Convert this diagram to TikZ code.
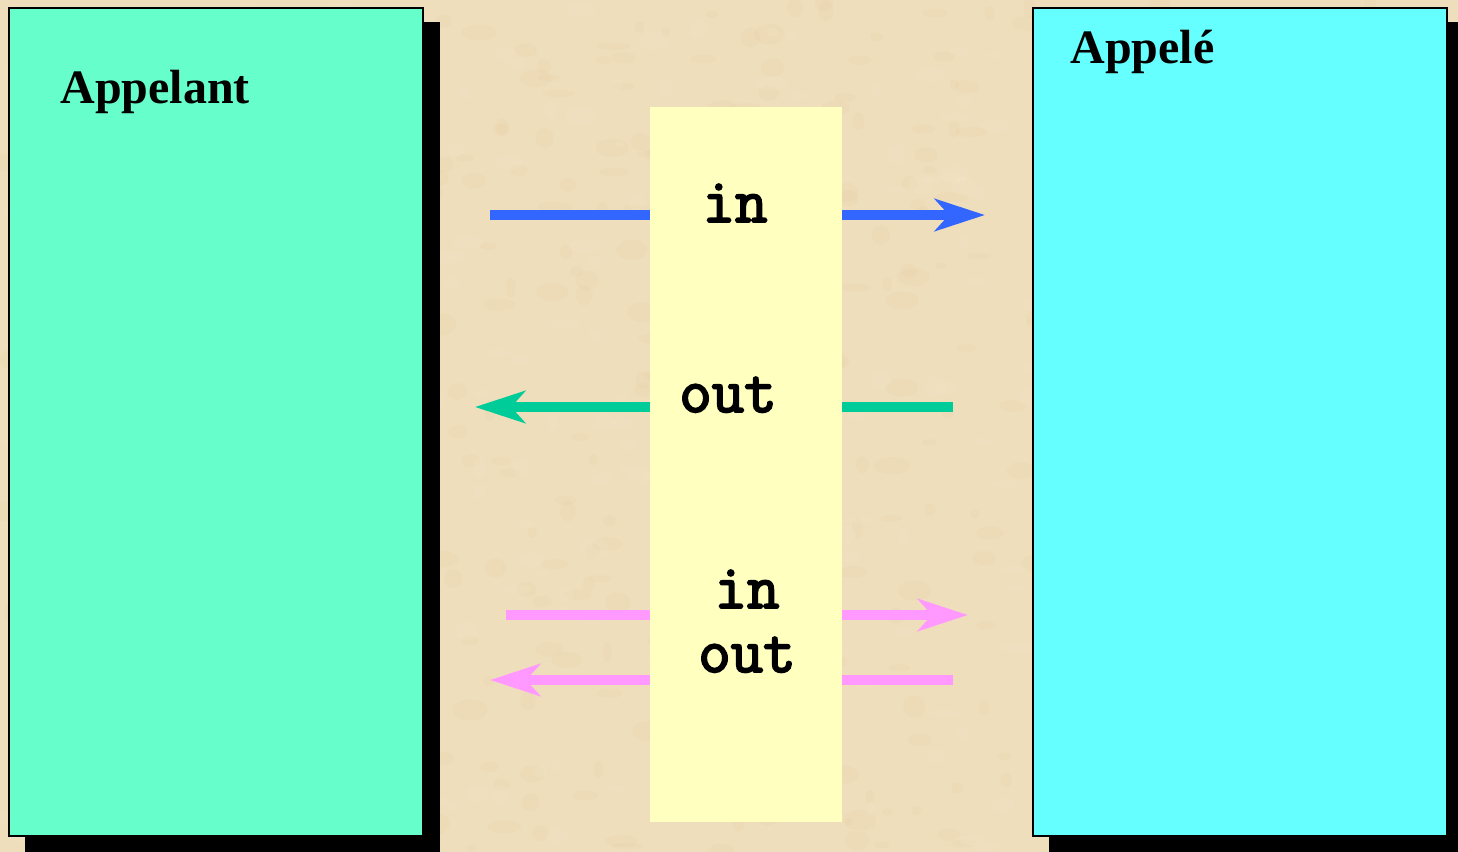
\documentclass[tikz,border=0pt]{standalone}
\usepackage{fontspec}
\setmainfont{Liberation Serif}
\newfontfamily\codefont[FakeBold=3]{Latin Modern Mono}
\usetikzlibrary{arrows.meta}

\definecolor{parchment}{RGB}{239,222,188}
\definecolor{parchdark}{RGB}{214,186,135}
\definecolor{parchlight}{RGB}{250,238,212}
\definecolor{callerfill}{RGB}{102,255,204}
\definecolor{calleefill}{RGB}{102,255,255}
\definecolor{modefill}{RGB}{255,255,192}
\definecolor{inblue}{RGB}{51,102,255}
\definecolor{outgreen}{RGB}{0,204,153}
\definecolor{inoutpink}{RGB}{255,153,255}

\tikzset{
  party/.style={draw=black, line width=1pt, minimum width=207pt, minimum height=414pt,
    inner sep=0pt, outer sep=0pt},
  shadowbox/.style={fill=black},
  title/.style={anchor=base west, font=\fontsize{24}{28}\selectfont\bfseries, inner sep=0pt},
  modetext/.style={anchor=base, font=\codefont\fontsize{31.5}{36}\selectfont, inner sep=0pt},
  modeband/.style={fill=modefill, draw=none, minimum width=96pt, minimum height=357.5pt,
    inner sep=0pt, outer sep=0pt},
  flow/.style={line width=5pt, -{Stealth[length=25pt, width=16pt, inset=7pt]}},
}

\begin{document}
\begin{tikzpicture}[x=0.5pt, y=-0.5pt]
  \useasboundingbox (0,0) rectangle (1458,852);
  \clip (0,0) rectangle (1458,852);

  % parchment background with a faint mottled grain
  \fill[parchment] (0,0) rectangle (1458,852);
  \pgfmathsetseed{7}
  \foreach \i in {1,...,500} {
    \pgfmathsetmacro{\px}{rnd*1458}
    \pgfmathsetmacro{\py}{rnd*852}
    \pgfmathsetmacro{\rx}{4+rnd*14}
    \pgfmathsetmacro{\ry}{3+rnd*8}
    \fill[parchdark, opacity=0.08] (\px,\py) ellipse [x radius=\rx, y radius=\ry];
  }
  \foreach \i in {1,...,300} {
    \pgfmathsetmacro{\px}{rnd*1458}
    \pgfmathsetmacro{\py}{rnd*852}
    \pgfmathsetmacro{\rx}{4+rnd*12}
    \pgfmathsetmacro{\ry}{3+rnd*7}
    \fill[parchlight, opacity=0.12] (\px,\py) ellipse [x radius=\rx, y radius=\ry];
  }

  % caller and callee panels with drop shadows
  \fill[shadowbox] (25,22) rectangle (440,870);
  \fill[shadowbox] (1049,22) rectangle (1470,870);
  \node[party, fill=callerfill] (caller) at (216,422) {};
  \node[party, fill=calleefill] (callee) at (1239.5,422) {};
  \node[title] (callerlabel) at (60,103) {Appelant};
  \node[title] (calleelabel) at (1070,63) {Appelé};

  % endpoints of the parameter-passing arrows
  \coordinate (inL)   at (490,215);  \coordinate (inR)   at (985,215);
  \coordinate (outL)  at (475,407);  \coordinate (outR)  at (953,407);
  \coordinate (ioinL) at (506,615);  \coordinate (ioinR) at (968,615);
  \coordinate (iooutL) at (490,680); \coordinate (iooutR) at (953,680);

  \draw[flow, inblue] (inL) -- (inR);
  \draw[flow, outgreen] (outR) -- (outL);
  \draw[flow, inoutpink] (ioinL) -- (ioinR);
  \draw[flow, inoutpink] (iooutR) -- (iooutL);

  % central band carrying the parameter modes
  \node[modeband] (band) at (746,464.5) {};
  \node[modetext] (modein)    at (735,222) {in};
  \node[modetext] (modeout)   at (728,412) {out};
  \node[modetext] (modeioin)  at (747,608) {in};
  \node[modetext] (modeioout) at (747,672) {out};
\end{tikzpicture}
\end{document}
